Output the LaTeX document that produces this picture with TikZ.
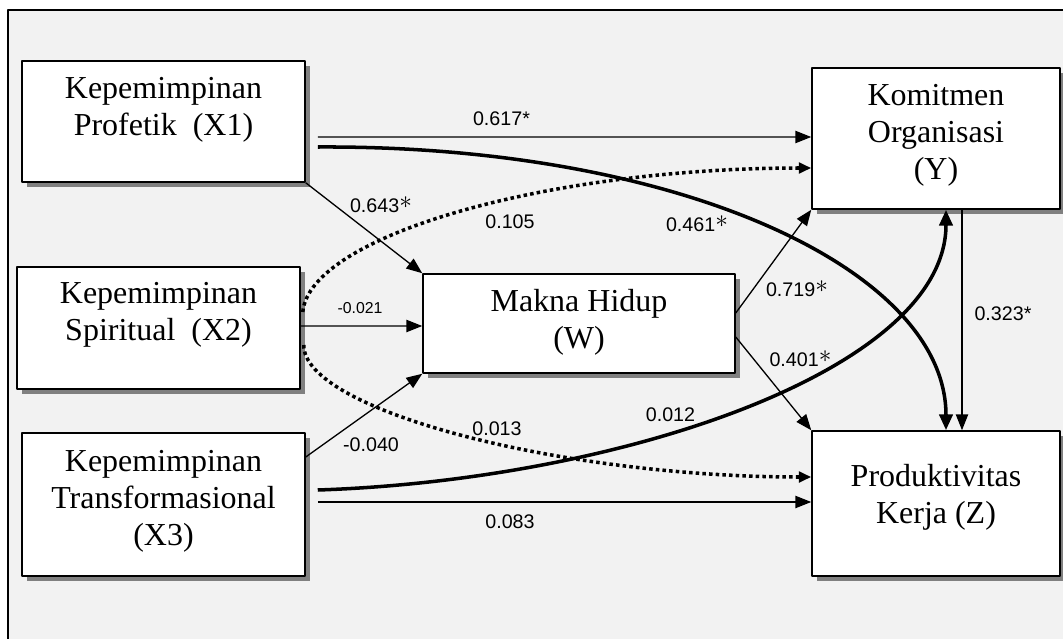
\documentclass[tikz,border=0pt]{standalone}
\usepackage{fontspec}
\setmainfont{Liberation Serif}
\newfontfamily\arialfont{Liberation Sans}
\usetikzlibrary{positioning,calc,arrows.meta,shadows}
\newcommand{\sigast}{\raisebox{0.2em}{\fontsize{15}{15}\selectfont$\ast$}}
\tikzset{
  var/.style={draw, line width=0.9pt, fill=white,
    drop shadow={shadow xshift=0.1cm, shadow yshift=-0.1cm, fill=black!50, opacity=1}},
  vartext/.style={inner sep=0pt, align=center, font=\fontsize{18.2}{21}\selectfont},
  coef/.style={inner sep=0pt, font=\arialfont\fontsize{11.2}{13}\selectfont},
  lnk/.style={line width=0.75pt, -{Triangle[length=9pt,width=7pt]}},
  lnkthick/.style={line width=2pt, -{Triangle[length=9pt,width=7.5pt]}},
  lnkdot/.style={line width=2pt, dash pattern=on 2pt off 1.8pt, -{Triangle[length=7pt,width=6pt]}}
}
\begin{document}
\begin{tikzpicture}[x=0.02cm, y=-0.02cm, line join=round]
% --- Bidang gambar ---
\fill[white] (0,0) rectangle (1063,639);
\useasboundingbox (0,0) rectangle (1063,639);
\fill[black!5] (8,10) rectangle (1063,639);
\draw[line width=0.9pt] (8,639) -- (8,10) -- (1063,10);

% --- Variabel ---
\node[var, minimum width=5.66cm, minimum height=2.42cm] (X1) at (163.5,121.5) {};
\node[var, minimum width=5.66cm, minimum height=2.44cm] (X2) at (158.5,328) {};
\node[var, minimum width=5.66cm, minimum height=2.86cm] (X3) at (163.5,504.5) {};
\node[var, minimum width=6.24cm, minimum height=1.98cm] (W) at (579,323.5) {};
\node[var, minimum width=4.96cm, minimum height=2.82cm] (Y) at (936,138.5) {};
\node[var, minimum width=4.96cm, minimum height=2.90cm] (Z) at (936,503.5) {};

\node[vartext, below=0.34cm of X1.north] (X1t) {Kepemimpinan\\Profetik~~(X1)};
\node[vartext, below=0.32cm of X2.north] (X2t) {Kepemimpinan\\Spiritual~~(X2)};
\node[vartext, below=0.36cm of X3.north] (X3t) {Kepemimpinan\\Transformasional\\(X3)};
\node[vartext, below=0.32cm of W.north] (Wt) {Makna Hidup\\(W)};
\node[vartext, below=0.34cm of Y.north] (Yt) {Komitmen\\Organisasi\\(Y)};
\node[vartext, below=0.68cm of Z.north] (Zt) {Produktivitas\\Kerja (Z)};

% --- Jalur langsung ---
\draw[lnk] ($(X1.east)+(12,15.5)$) -- ($(Y.west)+(0,-1.5)$);
\draw[lnk] (X1.south east) -- (W.north west);
\draw[lnk] ($(X2.east)+(0,-2)$) -- ($(W.west)+(0,2.5)$);
\draw[lnk] ($(X3.east)+(0,-47.5)$) -- (W.south west);
\draw[lnk] ($(X3.east)+(12,-2.5)$) -- ($(Z.west)+(0,-1.5)$);
\draw[lnk] ($(W.east)+(0,-10.5)$) -- (Y.south west);
\draw[lnk] ($(W.east)+(0,13.5)$) -- (Z.north west);
\draw[lnk] ($(Y.south)+(26,0)$) -- ($(Z.north)+(26,0)$);

% --- Jalur lengkung ---
\draw[lnkthick] ($(X1.east)+(12,25.5)$) .. controls (680,145) and (946,270) .. ($(Z.north)+(10,0)$);
\draw[lnkthick] ($(X3.east)+(12,-14.5)$) .. controls (620,480) and (946,370) .. ($(Y.south)+(10,0)$);
\draw[lnkdot] ($(X2.east)+(2,-16)$) .. controls (310,235) and (550,168) .. ($(Y.west)+(0,29.5)$);
\draw[lnkdot] ($(X2.east)+(3,17)$) .. controls (303,410) and (560,477) .. ($(Z.west)+(0,-26.5)$);

% --- Koefisien ---
\node[coef] (c617) at (501.5,119) {0.617*};
\node[coef] (c643) at (381,205) {0.643\sigast};
\node[coef] (c105) at (510,221.5) {0.105};
\node[coef] (c461) at (697,224) {0.461\sigast};
\node[coef, font=\arialfont\fontsize{9}{11}\selectfont] (c021) at (360,308.5) {-0.021};
\node[coef] (c013) at (497,428.5) {0.013};
\node[coef] (c040) at (371,445) {-0.040};
\node[coef] (c012) at (670.5,415) {0.012};
\node[coef] (c083) at (510,521.5) {0.083};
\node[coef] (c719) at (797,289) {0.719\sigast};
\node[coef] (c401) at (800.5,359) {0.401\sigast};
\node[coef] (c323) at (1003,314) {0.323*};
\end{tikzpicture}
\end{document}
